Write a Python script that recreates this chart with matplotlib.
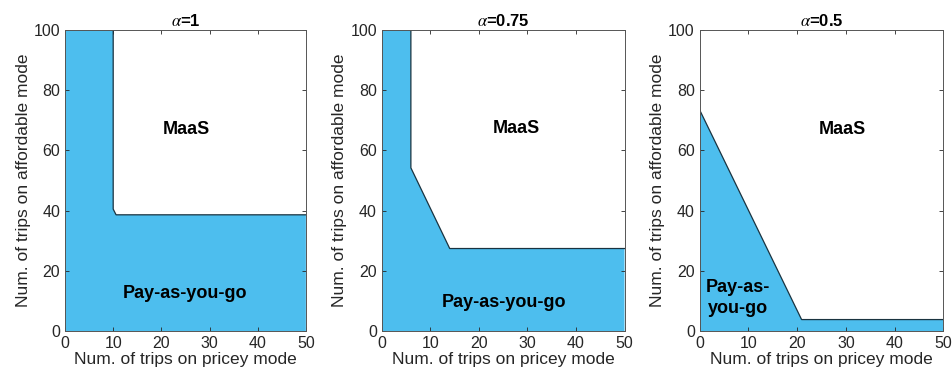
import numpy as np
import matplotlib.pyplot as plt

plt.rcParams['font.family'] = ['Liberation Sans', 'DejaVu Sans']
plt.rcParams['mathtext.fontset'] = 'stix'

titles = [r'$\alpha$=1', r'$\alpha$=0.75', r'$\alpha$=0.5']

# boundary between Pay-as-you-go (below) and MaaS (above)
bx1 = [10, 10, 10.6, 50]
by1 = [100, 40.5, 38.6, 38.6]
bx2 = [6.0, 6.0, 14.0, 50]
by2 = [100, 54.2, 27.4, 27.4]
bx3 = [0, 20.9, 50]
by3 = [73.4, 3.8, 3.8]
bounds = [(bx1, by1), (bx2, by2), (bx3, by3)]

maas_pos = [(25.1, 66.8), (27.8, 67.4), (29.3, 66.8)]
payg_pos = [(24.9, 12.3), (25.1, 9.6), (7.8, 11.0)]
payg_txt = ['Pay-as-you-go', 'Pay-as-you-go', 'Pay-as-\nyou-go']

fill_c = '#4DBEEE'
axc = '#262626'

fig = plt.figure(figsize=(9.52, 3.82), dpi=100)
lefts = [0.0683, 0.401, 0.735]
widths = [0.253, 0.255, 0.256]

for i in range(3):
    ax = fig.add_axes([lefts[i], 0.1335, widths[i], 0.788])
    bx, by = bounds[i]
    if bx[0] != 0:
        px = [0, 0] + list(bx) + [50]
        py = [0, 100] + list(by) + [0]
    else:
        px = [0] + list(bx) + [50]
        py = [0] + list(by) + [0]
    ax.fill(px, py, color=fill_c, lw=0)
    ax.plot(bx, by, color='#1a3340', lw=0.9)
    ax.set_xlim(0, 50)
    ax.set_ylim(0, 100)
    ax.set_xticks(np.arange(0, 51, 10))
    ax.set_yticks(np.arange(0, 101, 20))
    ax.tick_params(direction='in', top=True, right=True, length=3,
                   labelsize=11.5, colors=axc, width=0.6)
    for s in ax.spines.values():
        s.set_color('#555555')
        s.set_linewidth(0.7)
    ax.set_xlabel('Num. of trips on pricey mode', fontsize=12.5, color=axc, labelpad=1)
    ax.set_ylabel('Num. of trips on affordable mode', fontsize=12.5, color=axc, labelpad=2)
    ax.set_title(titles[i], fontsize=12, fontweight='bold', pad=3)
    ax.text(*maas_pos[i], 'MaaS', fontsize=13, fontweight='bold', ha='center', va='center')
    ax.text(*payg_pos[i], payg_txt[i], fontsize=13, fontweight='bold', ha='center', va='center',
            linespacing=1.3)

plt.savefig('out.png', dpi=100)
